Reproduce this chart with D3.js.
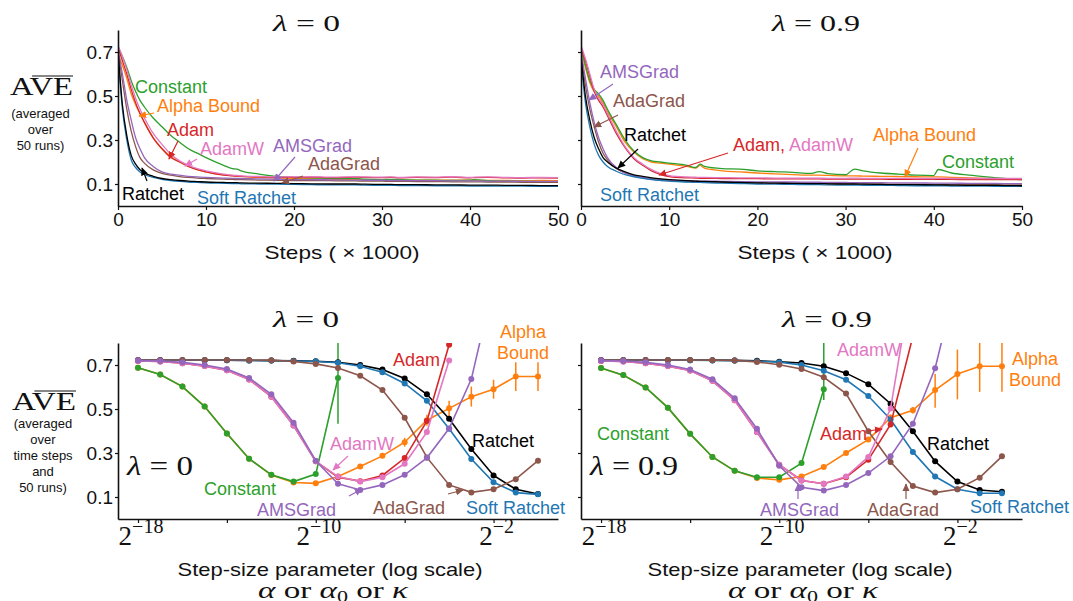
<!DOCTYPE html>
<meta charset="utf-8">
<script src="https://d3js.org/d3.v7.js"></script>
<style>
body { margin:0; background:#fff; }
svg text { font-family: "Liberation Sans", Arial, sans-serif; }
svg text.serif, svg tspan.serif { font-family: "Liberation Serif", "DejaVu Serif", serif; }
</style>
<div id="chart"></div>
<script>
// ---------- learning curves (top row), steps in thousands ----------
var steps = [0,0.5,1,1.5,2,2.5,3,4,5,6,7,8,9,10,12,13,13.5,14,16,18,20,22,24,26,27,28,30,31,32,34,36,38,40,40.5,42,44,46,48,50];

// lambda = 0
var constant0 = [0.72,0.68,0.63,0.57,0.52,0.48,0.45,0.40,0.36,0.32,0.29,0.26,0.24,0.22,0.185,0.17,0.168,0.16,0.145,0.135,0.13,0.128,0.126,0.124,0.125,0.122,0.12,0.121,0.12,0.118,0.117,0.116,0.118,0.12,0.115,0.113,0.112,0.111,0.11];
var alpha0    = [0.69,0.64,0.58,0.51,0.46,0.42,0.38,0.31,0.26,0.225,0.2,0.18,0.165,0.155,0.142,0.138,0.137,0.135,0.13,0.127,0.125,0.124,0.122,0.12,0.121,0.12,0.119,0.12,0.118,0.118,0.117,0.118,0.117,0.117,0.116,0.116,0.115,0.116,0.115];
var adam0     = [0.72,0.66,0.6,0.53,0.47,0.42,0.38,0.31,0.26,0.22,0.2,0.18,0.165,0.155,0.14,0.137,0.136,0.135,0.132,0.13,0.13,0.131,0.129,0.13,0.131,0.13,0.129,0.13,0.128,0.13,0.129,0.131,0.128,0.129,0.13,0.128,0.127,0.128,0.127];
var adamw0    = [0.73,0.68,0.62,0.55,0.49,0.44,0.4,0.33,0.28,0.235,0.205,0.185,0.17,0.16,0.145,0.14,0.139,0.137,0.134,0.132,0.132,0.133,0.131,0.132,0.133,0.132,0.131,0.132,0.13,0.132,0.131,0.133,0.13,0.131,0.132,0.13,0.129,0.13,0.129];
var ams0      = [0.71,0.6,0.48,0.39,0.31,0.26,0.22,0.18,0.155,0.145,0.14,0.135,0.132,0.13,0.127,0.126,0.125,0.125,0.123,0.122,0.12,0.12,0.119,0.118,0.118,0.117,0.117,0.116,0.116,0.115,0.115,0.114,0.114,0.114,0.113,0.113,0.112,0.112,0.112];
var ada0      = [0.71,0.57,0.44,0.34,0.27,0.22,0.195,0.164,0.148,0.14,0.134,0.13,0.127,0.125,0.122,0.121,0.12,0.12,0.118,0.117,0.116,0.115,0.115,0.114,0.114,0.113,0.113,0.112,0.112,0.111,0.111,0.11,0.11,0.11,0.109,0.109,0.108,0.108,0.108];
var ratchet0  = [0.71,0.46,0.32,0.23,0.19,0.165,0.15,0.135,0.125,0.12,0.116,0.113,0.111,0.109,0.107,0.106,0.106,0.105,0.104,0.103,0.102,0.101,0.1,0.1,0.1,0.099,0.098,0.098,0.097,0.097,0.096,0.096,0.095,0.095,0.095,0.094,0.094,0.093,0.093];
var soft0     = [0.69,0.44,0.3,0.21,0.175,0.155,0.143,0.13,0.121,0.116,0.112,0.109,0.107,0.105,0.103,0.102,0.102,0.101,0.1,0.099,0.098,0.097,0.096,0.096,0.096,0.095,0.094,0.094,0.093,0.093,0.092,0.092,0.091,0.091,0.091,0.09,0.09,0.089,0.089];

// lambda = 0.9
var constant9 = [0.72,0.64,0.57,0.53,0.51,0.48,0.44,0.37,0.3,0.25,0.22,0.205,0.2,0.195,0.185,0.175,0.19,0.18,0.17,0.168,0.16,0.156,0.153,0.148,0.156,0.147,0.142,0.168,0.16,0.15,0.145,0.14,0.138,0.166,0.15,0.14,0.132,0.125,0.12];
var alpha9    = [0.71,0.63,0.56,0.52,0.5,0.47,0.43,0.36,0.29,0.245,0.215,0.2,0.195,0.19,0.18,0.172,0.185,0.172,0.16,0.155,0.15,0.146,0.143,0.14,0.14,0.139,0.137,0.137,0.136,0.135,0.134,0.133,0.132,0.132,0.13,0.128,0.126,0.124,0.122];
var adam9     = [0.72,0.66,0.59,0.52,0.48,0.45,0.41,0.33,0.265,0.215,0.185,0.16,0.144,0.134,0.128,0.127,0.126,0.126,0.125,0.124,0.124,0.123,0.123,0.123,0.123,0.122,0.122,0.122,0.122,0.122,0.121,0.121,0.121,0.121,0.121,0.12,0.12,0.12,0.12];
var adamw9    = [0.73,0.67,0.6,0.53,0.49,0.46,0.42,0.34,0.27,0.22,0.19,0.165,0.148,0.138,0.132,0.131,0.13,0.13,0.129,0.128,0.128,0.127,0.127,0.127,0.127,0.126,0.126,0.127,0.126,0.126,0.126,0.125,0.125,0.126,0.125,0.125,0.125,0.125,0.125];
var ams9      = [0.7,0.58,0.47,0.38,0.31,0.26,0.22,0.175,0.15,0.138,0.13,0.125,0.121,0.118,0.115,0.114,0.113,0.113,0.112,0.111,0.11,0.109,0.109,0.108,0.108,0.107,0.107,0.106,0.106,0.106,0.105,0.105,0.104,0.104,0.104,0.103,0.103,0.102,0.102];
var ada9      = [0.7,0.55,0.44,0.36,0.29,0.24,0.21,0.17,0.15,0.137,0.128,0.122,0.118,0.115,0.111,0.11,0.109,0.109,0.107,0.106,0.105,0.104,0.103,0.103,0.102,0.102,0.101,0.101,0.1,0.1,0.099,0.099,0.098,0.098,0.098,0.097,0.097,0.096,0.096];
var ratchet9  = [0.68,0.5,0.39,0.31,0.26,0.22,0.2,0.172,0.155,0.142,0.135,0.128,0.123,0.12,0.115,0.113,0.112,0.112,0.109,0.107,0.105,0.104,0.103,0.102,0.102,0.101,0.1,0.1,0.099,0.098,0.097,0.097,0.096,0.096,0.095,0.094,0.094,0.093,0.092];
var soft9     = [0.66,0.47,0.36,0.28,0.23,0.2,0.18,0.158,0.143,0.133,0.126,0.12,0.116,0.113,0.109,0.107,0.107,0.106,0.104,0.102,0.1,0.099,0.098,0.097,0.097,0.096,0.095,0.095,0.094,0.094,0.093,0.092,0.092,0.092,0.091,0.09,0.09,0.089,0.089];

// ---------- step-size sweeps (bottom row), x = 2^exponent ----------
var exponents = [-18,-17,-16,-15,-14,-13,-12,-11,-10,-9,-8,-7,-6,-5,-4,-3,-2,-1,0];

// lambda = 0
var sweepConstant0 = [0.688,0.657,0.602,0.511,0.389,0.274,0.201,0.17,0.204,0.641];
var sweepAlpha0    = [0.688,0.657,0.602,0.511,0.389,0.274,0.2,0.166,0.162,0.193,0.239,0.287,0.349,0.449,0.503,0.556,0.59,0.648,0.648];
var sweepAdam0     = [0.718,0.716,0.708,0.695,0.676,0.634,0.556,0.425,0.262,0.19,0.172,0.198,0.277,0.445,0.792];
var sweepAdamW0    = [0.718,0.716,0.708,0.695,0.676,0.634,0.556,0.425,0.262,0.193,0.17,0.19,0.251,0.395,0.72];
var sweepAms0      = [0.72,0.718,0.712,0.7,0.682,0.641,0.567,0.438,0.265,0.16,0.132,0.155,0.201,0.278,0.411,0.636,1.07];
var sweepAda0      = [0.723,0.723,0.723,0.723,0.723,0.723,0.722,0.716,0.705,0.686,0.651,0.586,0.46,0.28,0.155,0.121,0.135,0.181,0.265];
var sweepRatchet0  = [0.722,0.722,0.722,0.722,0.722,0.721,0.72,0.719,0.717,0.712,0.7,0.679,0.639,0.567,0.456,0.318,0.198,0.135,0.114];
var sweepSoft0     = [0.722,0.722,0.722,0.722,0.722,0.721,0.72,0.718,0.716,0.71,0.694,0.667,0.616,0.537,0.41,0.273,0.167,0.12,0.112];
// error bars: [index, low, high]
var errConstant0 = [[9,0.433,0.95]];
var errAlpha0    = [[12,0.329,0.369],[13,0.424,0.474],[14,0.465,0.537],[15,0.511,0.602],[16,0.547,0.633],[17,0.582,0.712],[18,0.582,0.712]];

// lambda = 0.9
var sweepConstant9 = [0.686,0.654,0.598,0.506,0.387,0.282,0.219,0.19,0.19,0.254,0.59];
var sweepAlpha9    = [0.686,0.654,0.598,0.506,0.387,0.282,0.219,0.186,0.178,0.193,0.236,0.3,0.361,0.46,0.494,0.586,0.659,0.694,0.694];
var sweepAdam9     = [0.718,0.716,0.708,0.695,0.675,0.628,0.54,0.395,0.247,0.175,0.16,0.19,0.269,0.43,0.83];
var sweepAdamW9    = [0.718,0.716,0.708,0.695,0.675,0.628,0.54,0.395,0.247,0.175,0.16,0.193,0.282,0.502,1.11];
var sweepAms9      = [0.72,0.718,0.712,0.7,0.68,0.635,0.549,0.41,0.242,0.144,0.129,0.155,0.209,0.285,0.433,0.685,1.1];
var sweepAda9      = [0.723,0.723,0.723,0.723,0.723,0.722,0.721,0.714,0.701,0.682,0.644,0.57,0.399,0.259,0.15,0.12,0.135,0.188,0.285];
var sweepRatchet9  = [0.722,0.722,0.722,0.722,0.722,0.722,0.721,0.719,0.715,0.709,0.694,0.663,0.613,0.524,0.399,0.262,0.17,0.132,0.124];
var sweepSoft9     = [0.722,0.722,0.722,0.722,0.722,0.721,0.72,0.717,0.713,0.7,0.674,0.633,0.559,0.452,0.305,0.193,0.135,0.117,0.117];
var errConstant9 = [[10,0.541,0.95]];
var errAlpha9    = [[13,0.445,0.475],[14,0.479,0.509],[15,0.506,0.659],[16,0.544,0.77],[17,0.578,0.8],[18,0.578,0.8]];

var yTicks = [0.1,0.3,0.5,0.7];
var stepTicks = [0,10,20,30,40,50];
var sizeTicks = [-18,-14,-10,-6,-2];
var sizeTickLabels = {"-18":"\u221218","-10":"\u221210","-2":"\u22122"};

var colors = {constant:"#2ca02c", alpha:"#ff7f0e", adam:"#d62728", adamw:"#e377c2",
              ams:"#9467bd", ada:"#8c564b", ratchet:"#000000", soft:"#1f77b4"};

const svg = d3.select("#chart").append("svg").attr("width",1073).attr("height",601);
const defs = svg.append("defs");

// arrow heads, one per colour
Object.keys(colors).forEach(function(k){
  defs.append("marker").attr("id","ah-"+k)
    .attr("viewBox","0 0 10 10").attr("refX",9).attr("refY",5)
    .attr("markerWidth",8).attr("markerHeight",8).attr("markerUnits","userSpaceOnUse")
    .attr("orient","auto")
    .append("path").attr("d","M0,0.5L10,5L0,9.5Z").attr("fill",colors[k]);
});

function styleAxis(g){
  g.select(".domain").attr("stroke","#111").attr("stroke-width",1.6);
  g.selectAll(".tick line").attr("stroke","#111").attr("stroke-width",1.2);
  g.selectAll(".tick text").attr("fill","#111").attr("font-size",19)
    .attr("font-family","'Liberation Sans', Arial, sans-serif");
  g.attr("font-family",null);
}

function lambdaText(x, y, num, size, len){
  var t = svg.append("text").attr("class","serif").attr("x",x).attr("y",y)
    .attr("font-size",size).attr("fill","#111")
    .attr("textLength",len).attr("lengthAdjust","spacingAndGlyphs");
  t.append("tspan").attr("class","serif").attr("font-style","italic").text("\u03bb");
  t.append("tspan").attr("class","serif").text(" = " + num);
}

function note(txt, key, x, y, anchor){
  svg.append("text").attr("x",x).attr("y",y).attr("font-size",18)
    .attr("fill",colors[key]).attr("text-anchor",anchor || "start").text(txt);
}
function arrow(key, x1, y1, x2, y2){
  svg.append("line").attr("x1",x1).attr("y1",y1).attr("x2",x2).attr("y2",y2)
    .attr("stroke",colors[key]).attr("stroke-width",1.2)
    .attr("marker-end","url(#ah-"+key+")");
}

// ---------------- top row ----------------
var topPanels = [
  {x0:118, x1:558, labels:true, id:"t0",
   series:[["alpha",alpha0],["constant",constant0],["adam",adam0],["adamw",adamw0],["ada",ada0],["ams",ams0],["soft",soft0],["ratchet",ratchet0]]},
  {x0:581, x1:1022, labels:false, id:"t9",
   series:[["alpha",alpha9],["constant",constant9],["adam",adam9],["adamw",adamw9],["ada",ada9],["ams",ams9],["soft",soft9],["ratchet",ratchet9]]}
];

topPanels.forEach(function(p){
  var x = d3.scaleLinear().domain([0,50]).range([p.x0,p.x1]);
  var y = d3.scaleLinear().domain([0,0.8]).range([206,30]);

  defs.append("clipPath").attr("id","clip-"+p.id).append("rect")
    .attr("x",p.x0).attr("y",30).attr("width",p.x1-p.x0).attr("height",176);

  var g = svg.append("g").attr("clip-path","url(#clip-"+p.id+")");
  p.series.forEach(function(s){
    var line = d3.line().x(function(d,i){ return x(steps[i]); }).y(function(d){ return y(d); })
      .curve(d3.curveMonotoneX);
    g.append("path").attr("d",line(s[1])).attr("fill","none")
      .attr("stroke",colors[s[0]]).attr("stroke-width",1.3);
  });

  var gy = svg.append("g").attr("transform","translate("+p.x0+",0)")
    .call(d3.axisLeft(y).tickValues(yTicks).tickSize(3).tickSizeOuter(0).tickPadding(2)
      .tickFormat(p.labels ? d3.format(".1f") : ""));
  styleAxis(gy);
  var gx = svg.append("g").attr("transform","translate(0,206)")
    .call(d3.axisBottom(x).tickValues(stepTicks).tickSize(4).tickSizeOuter(0).tickPadding(3));
  styleAxis(gx);
});

svg.append("text").attr("x",342).attr("y",259).attr("text-anchor","middle").attr("font-size",19)
  .attr("fill","#111").attr("textLength",155).attr("lengthAdjust","spacingAndGlyphs").text("Steps ( \u00d7 1000)");
svg.append("text").attr("x",815).attr("y",259).attr("text-anchor","middle").attr("font-size",19)
  .attr("fill","#111").attr("textLength",155).attr("lengthAdjust","spacingAndGlyphs").text("Steps ( \u00d7 1000)");

lambdaText(273, 31, "0", 24, 67);
lambdaText(772, 31, "0.9", 24, 88);

// ---------------- bottom row ----------------
var botPanels = [
  {x0:118, x1:558, labels:true, id:"b0", cx:330,
   series:[["alpha",sweepAlpha0],["constant",sweepConstant0],["ratchet",sweepRatchet0],["soft",sweepSoft0],["ada",sweepAda0],["adam",sweepAdam0],["adamw",sweepAdamW0],["ams",sweepAms0]],
   errs:[["alpha",errAlpha0],["constant",errConstant0]]},
  {x0:581, x1:1022, labels:false, id:"b9", cx:800,
   series:[["alpha",sweepAlpha9],["constant",sweepConstant9],["ratchet",sweepRatchet9],["soft",sweepSoft9],["ada",sweepAda9],["adam",sweepAdam9],["adamw",sweepAdamW9],["ams",sweepAms9]],
   errs:[["alpha",errAlpha9],["constant",errConstant9]]}
];

botPanels.forEach(function(p){
  var x = d3.scaleLog().base(2).domain([Math.pow(2,-18.9), Math.pow(2,0.9)]).range([p.x0,p.x1]);
  var y = d3.scaleLinear().domain([0,0.8]).range([519,343]);
  var px = function(i){ return x(Math.pow(2, exponents[i])); };

  defs.append("clipPath").attr("id","clip-"+p.id).append("rect")
    .attr("x",p.x0).attr("y",343).attr("width",p.x1-p.x0).attr("height",176);
  var g = svg.append("g").attr("clip-path","url(#clip-"+p.id+")");

  p.errs.forEach(function(e){
    g.selectAll(null).data(e[1]).enter().append("line")
      .attr("x1",function(d){ return px(d[0]); }).attr("x2",function(d){ return px(d[0]); })
      .attr("y1",function(d){ return y(d[1]); }).attr("y2",function(d){ return y(d[2]); })
      .attr("stroke",colors[e[0]]).attr("stroke-width",1.5);
  });

  p.series.forEach(function(s){
    var line = d3.line().x(function(d,i){ return px(i); }).y(function(d){ return y(d); });
    g.append("path").attr("d",line(s[1])).attr("fill","none")
      .attr("stroke",colors[s[0]]).attr("stroke-width",1.6);
    g.selectAll(null).data(s[1]).enter().append("circle")
      .attr("cx",function(d,i){ return px(i); }).attr("cy",function(d){ return y(d); })
      .attr("r",3).attr("fill",colors[s[0]]);
  });

  var gy = svg.append("g").attr("transform","translate("+p.x0+",0)")
    .call(d3.axisLeft(y).tickValues(yTicks).tickSize(3).tickSizeOuter(0).tickPadding(2)
      .tickFormat(p.labels ? d3.format(".1f") : ""));
  styleAxis(gy);
  var gx = svg.append("g").attr("transform","translate(0,519)")
    .call(d3.axisBottom(x).tickValues(sizeTicks.map(function(e){ return Math.pow(2,e); }))
      .tickSize(4).tickSizeOuter(0).tickFormat(""));
  styleAxis(gx);

  sizeTicks.forEach(function(e){
    if (!sizeTickLabels[e]) return;
    var t = svg.append("text").attr("class","serif").attr("x",x(Math.pow(2,e))+3).attr("y",545)
      .attr("text-anchor","middle").attr("fill","#111");
    t.append("tspan").attr("class","serif").attr("font-size",27).text("2");
    t.append("tspan").attr("class","serif").attr("font-size",20).attr("dy",-12).text(sizeTickLabels[e]);
  });

  svg.append("text").attr("x",p.cx).attr("y",576).attr("text-anchor","middle").attr("font-size",19)
    .attr("fill","#111").attr("textLength",305).attr("lengthAdjust","spacingAndGlyphs")
    .text("Step-size parameter (log scale)");
  var t2 = svg.append("text").attr("class","serif").attr("x",p.cx+3).attr("y",598)
    .attr("text-anchor","middle").attr("font-size",24).attr("fill","#111")
    .attr("textLength",150).attr("lengthAdjust","spacingAndGlyphs");
  t2.append("tspan").attr("class","serif").attr("font-style","italic").text("\u03b1");
  t2.append("tspan").attr("class","serif").text(" or ");
  t2.append("tspan").attr("class","serif").attr("font-style","italic").text("\u03b1");
  t2.append("tspan").attr("class","serif").attr("font-size",16).attr("dy",4).text("0");
  t2.append("tspan").attr("class","serif").attr("dy",-4).text(" or ");
  t2.append("tspan").attr("class","serif").attr("font-style","italic").text("\u03ba");
});

lambdaText(273, 327, "0", 24, 66);
lambdaText(782, 327, "0.9", 24, 90);
lambdaText(127, 475, "0", 28, 66);
lambdaText(590, 475, "0.9", 28, 88);

// ---------------- y-axis titles ----------------
function aveTitle(x, yb, w, lines, y0){
  svg.append("text").attr("class","serif").attr("x",x).attr("y",yb).attr("font-size",25)
    .attr("fill","#111").attr("textLength",w).attr("lengthAdjust","spacingAndGlyphs").text("AVE");
  svg.append("line").attr("x1",x+w*0.35).attr("x2",x+w).attr("y1",yb-19).attr("y2",yb-19)
    .attr("stroke","#111").attr("stroke-width",1.2);
  lines.forEach(function(l,i){
    svg.append("text").attr("x",x+w/2-1).attr("y",y0+i*16.2).attr("text-anchor","middle")
      .attr("font-size",13).attr("fill","#111").text(l);
  });
}
aveTitle(10, 95, 63, ["(averaged","over","50 runs)"], 117.5);
aveTitle(12, 410, 64, ["(averaged","over","time steps","and","50 runs)"], 427.5);

// ---------------- annotations ----------------
// top left
note("Constant","constant",135,93);
note("Alpha Bound","alpha",157,112); arrow("alpha",154,113,139,116);
note("Adam","adam",167,136);         arrow("adam",178,141,169,159);
note("AdamW","adamw",200,155);       arrow("adamw",197,159,185,166);
note("AMSGrad","ams",273,152);       arrow("ams",295,157,274,181);
note("AdaGrad","ada",308,170);       arrow("ada",303,176,282,183);
note("Ratchet","ratchet",122,200);   arrow("ratchet",147,181,142,168);
note("Soft Ratchet","soft",197,204);
// top right
note("AMSGrad","ams",600,78);        arrow("ams",613,84,589,100);
note("AdaGrad","ada",613,107);       arrow("ada",618,115,594,127);
note("Ratchet","ratchet",624,141);   arrow("ratchet",638,149,618,168);
var aa = svg.append("text").attr("x",733).attr("y",151).attr("font-size",18);
aa.append("tspan").attr("fill",colors.adam).text("Adam,");
aa.append("tspan").attr("fill",colors.adamw).text(" AdamW");
arrow("adam",728,153,659,175);
note("Alpha Bound","alpha",873,141); arrow("alpha",918,148,905,177);
note("Constant","constant",942,168);
note("Soft Ratchet","soft",600,201);
// bottom left
note("Alpha","alpha",523,338,"middle");
note("Bound","alpha",523,359,"middle");
note("Adam","adam",393,366);
note("Ratchet","ratchet",472,447);
note("AdamW","adamw",330,450);       arrow("adamw",348,456,333,470);
note("Constant","constant",204,495);
note("AMSGrad","ams",257,516);       arrow("ams",349,496,362,489);
note("AdaGrad","ada",373,514);       arrow("ada",448,494,463,490);
note("Soft Ratchet","soft",466,514);
// bottom right
note("AdamW","adamw",837,356);
note("Alpha","alpha",1035,365,"middle");
note("Bound","alpha",1035,386,"middle");
note("Adam","adam",820,440);         arrow("adam",868,431,882,429);
note("Ratchet","ratchet",927,450);
note("Constant","constant",597,440);
note("AMSGrad","ams",760,516);       arrow("ams",798,499,798,484);
note("AdaGrad","ada",867,516);       arrow("ada",906,499,906,484);
note("Soft Ratchet","soft",970,513);
</script>
